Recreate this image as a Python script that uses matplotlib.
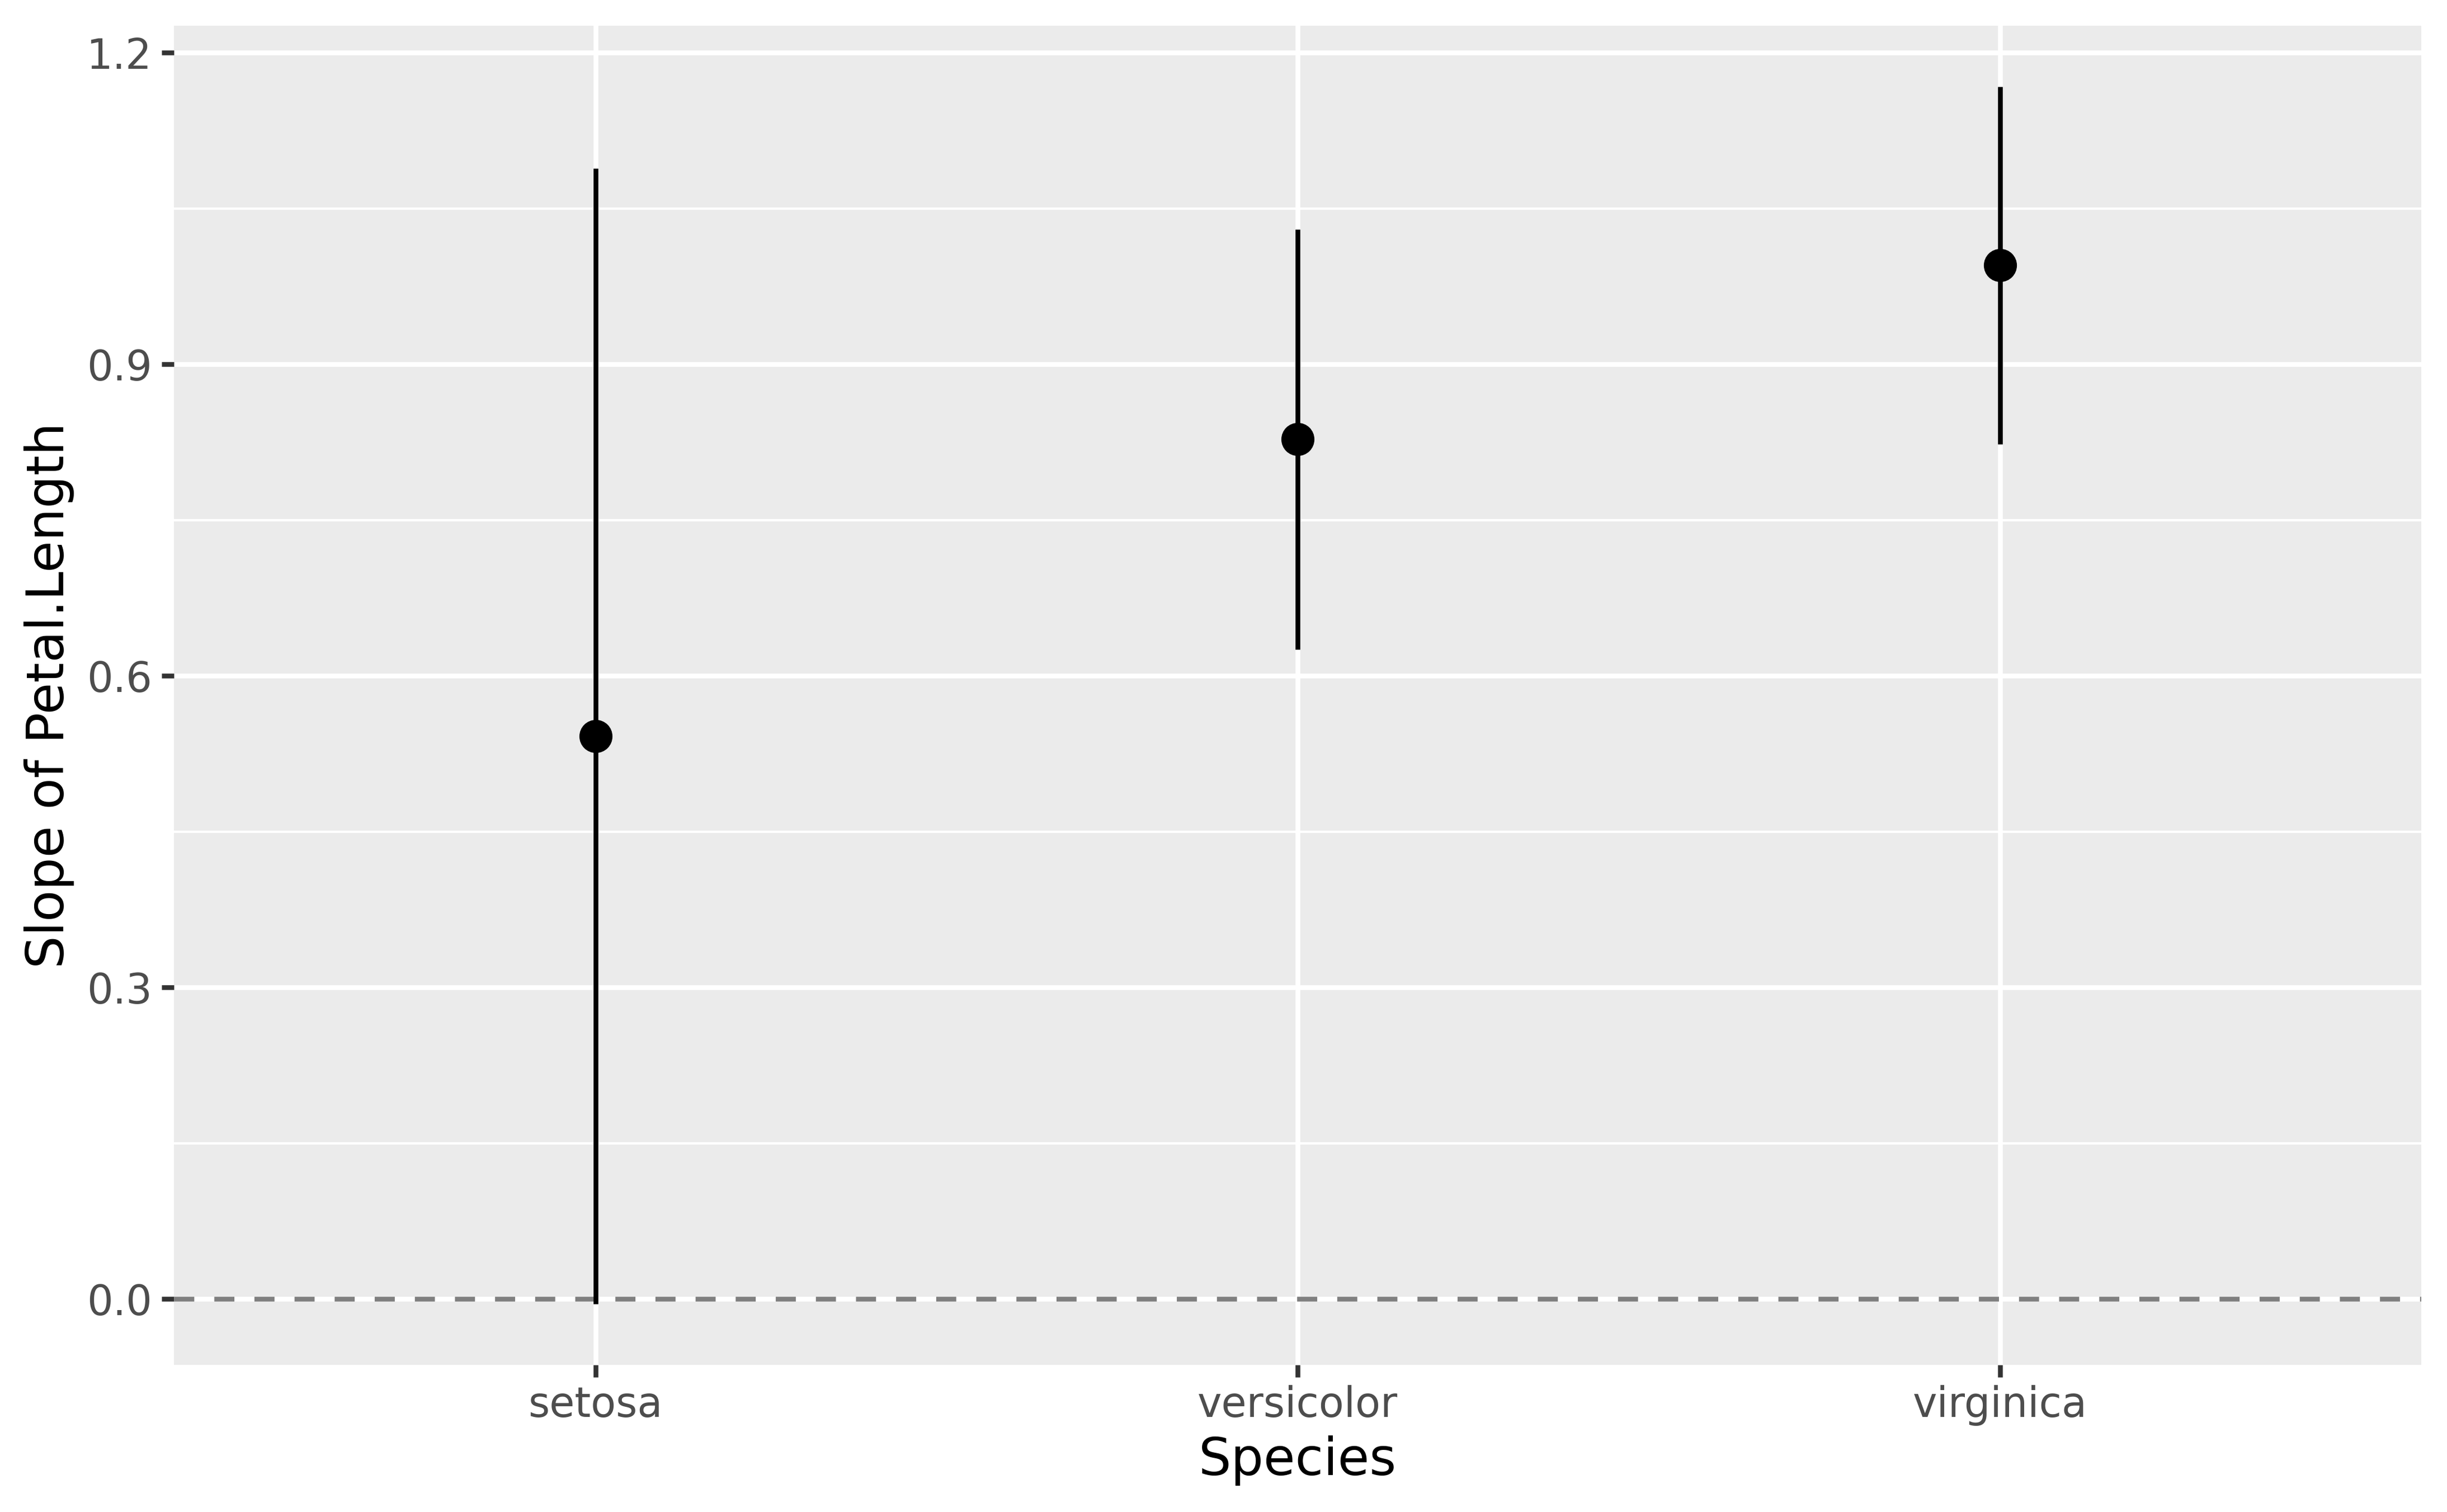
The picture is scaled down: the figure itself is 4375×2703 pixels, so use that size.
import matplotlib
matplotlib.use("Agg")
import matplotlib.pyplot as plt
import numpy as np

species = ["setosa", "versicolor", "virginica"]
slope = [0.542, 0.828, 0.9955]
lower = [-0.0048, 0.6257, 0.8231]
upper = [1.089, 1.030, 1.1675]
y_major = [0.0, 0.3, 0.6, 0.9, 1.2]
y_minor = [0.15, 0.45, 0.75, 1.05]

DPI = 576
W, H = 4375, 2703
plt.rcParams['font.family'] = ['DejaVu Sans']
fig = plt.figure(figsize=(W / DPI, H / DPI), dpi=DPI)
left, right, top, bottom = 311.4, 4329.0, 46.0, 2440.0
ax = fig.add_axes([left / W, (H - bottom) / H, (right - left) / W, (bottom - top) / H])

lw = 1.067
ax.set_facecolor("#EBEBEB")
for s in ax.spines.values():
    s.set_visible(False)

x = np.arange(len(species))
ax.set_xlim(-0.6, len(species) - 1 + 0.6)
lo, hi = min(lower), max(upper)
rng = hi - lo
ax.set_ylim(lo - 0.05 * rng, hi + 0.05 * rng)

ax.set_yticks(y_major)
ax.set_yticks(y_minor, minor=True)
ax.set_yticklabels([f"{v:.1f}" for v in y_major])
ax.set_xticks(x)
ax.set_xticklabels(species)

ax.grid(True, which="major", color="white", linewidth=lw)
ax.grid(True, which="minor", axis="y", color="white", linewidth=lw / 2)
ax.set_axisbelow(True)

ax.tick_params(axis="both", which="major", length=2.75, width=lw, color="#333333",
               labelsize=9.2, labelcolor="#4D4D4D", pad=2.2)
ax.tick_params(axis="x", which="major", pad=1.7)
ax.tick_params(axis="both", which="minor", length=0)

ax.axhline(0, color="#7F7F7F", linewidth=lw, linestyle=(0, (4.2, 4.2)), zorder=2)

ax.vlines(x, lower, upper, colors="black", linewidth=lw, zorder=3, capstyle="butt")
ax.plot(x, slope, "o", color="black", markersize=7.4, markeredgewidth=0, zorder=4)

ax.set_xlabel("Species", fontsize=11.5, color="black", labelpad=2.2)
ax.set_ylabel("Slope of Petal.Length", fontsize=11.5, color="black", labelpad=2.75)

fig.savefig("out.png", dpi=DPI, facecolor="white")
